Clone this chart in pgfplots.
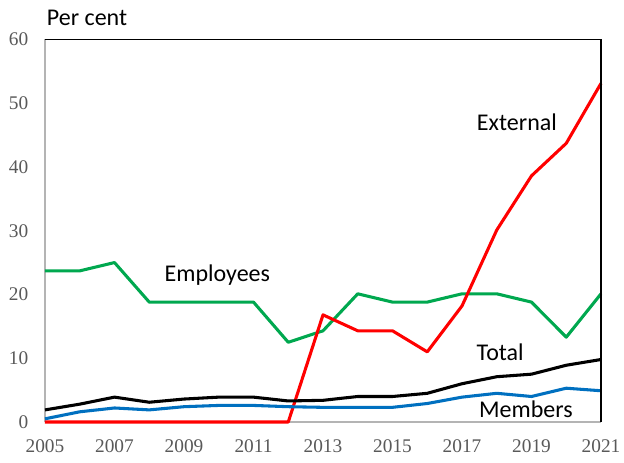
\documentclass[border=0pt]{standalone}
\usepackage{pgfplots}
\pgfplotsset{compat=1.18}
\usepackage{fontspec}
\setmainfont{Carlito}
\newfontfamily\tickfont{Liberation Serif}
\definecolor{xlgreen}{HTML}{00A84F}
\definecolor{xlblue}{HTML}{0070C0}
\definecolor{xlred}{HTML}{FF0000}
\definecolor{tickgray}{HTML}{595959}
\definecolor{axgray}{HTML}{B4B4B4}

% shares by year
\pgfplotstableread{
year employees external total members
2005 23.7 0    1.9 0.5
2006 23.7 0    2.8 1.6
2007 25.0 0    3.9 2.2
2008 18.8 0    3.1 1.9
2009 18.8 0    3.6 2.4
2010 18.8 0    3.9 2.6
2011 18.8 0    3.9 2.6
2012 12.5 0    3.3 2.4
2013 14.3 16.8 3.4 2.3
2014 20.1 14.3 4.0 2.3
2015 18.8 14.3 4.0 2.3
2016 18.8 11.0 4.5 2.9
2017 20.1 18.2 6.0 3.9
2018 20.1 30.1 7.1 4.5
2019 18.8 38.6 7.5 4.0
2020 13.3 43.7 8.9 5.3
2021 20.1 53.1 9.8 4.9
}\shares

\begin{document}
\begin{tikzpicture}
\path[use as bounding box] (-33.75pt,-30pt) rectangle (434.25pt,316.5pt);
\begin{axis}[
    at={(0,0)}, anchor=south west,
    scale only axis,
    width=417pt, height=287pt,
    xmin=2005, xmax=2021,
    ymin=0, ymax=60,
    axis x line=bottom, axis y line=left,
    axis line style={-, draw=axgray, line width=1.2pt},
    xtick={2005,2007,...,2021},
    ytick={0,10,...,60},
    major tick length=0pt,
    tick label style={font=\fontsize{14.5}{16}\tickfont, text=tickgray},
    /pgf/number format/assume math mode=true,
    /pgf/number format/1000 sep={},
    xticklabel style={yshift=-10pt},
    yticklabel style={xshift=-9pt},
    clip=false,
    every axis plot/.append style={line width=2.3pt, line join=round},
    after end axis/.code={
        \draw[black, line width=1.2pt] (rel axis cs:0,1) -- (rel axis cs:1,1) -- (rel axis cs:1,0);
    },
]
\addplot[xlgreen] table[x=year, y=employees] {\shares};
\addplot[xlred] table[x=year, y=external] {\shares};
\addplot[black] table[x=year, y=total] {\shares};
\addplot[xlblue] table[x=year, y=members] {\shares};

\node[font=\fontsize{18}{20}\selectfont] at (axis cs:2009.96,23.0) {Employees};
\node[font=\fontsize{18}{20}\selectfont] at (axis cs:2018.58,47.0) {External};
\node[font=\fontsize{18}{20}\selectfont] at (axis cs:2018.1,11.0) {Total};
\node[font=\fontsize{18}{20}\selectfont] at (axis cs:2018.84,2.0) {Members};
\node[font=\fontsize{18}{20}\selectfont, anchor=base west] at (rel axis cs:-0.005,1.035) {Per cent};
\end{axis}
\end{tikzpicture}
\end{document}
